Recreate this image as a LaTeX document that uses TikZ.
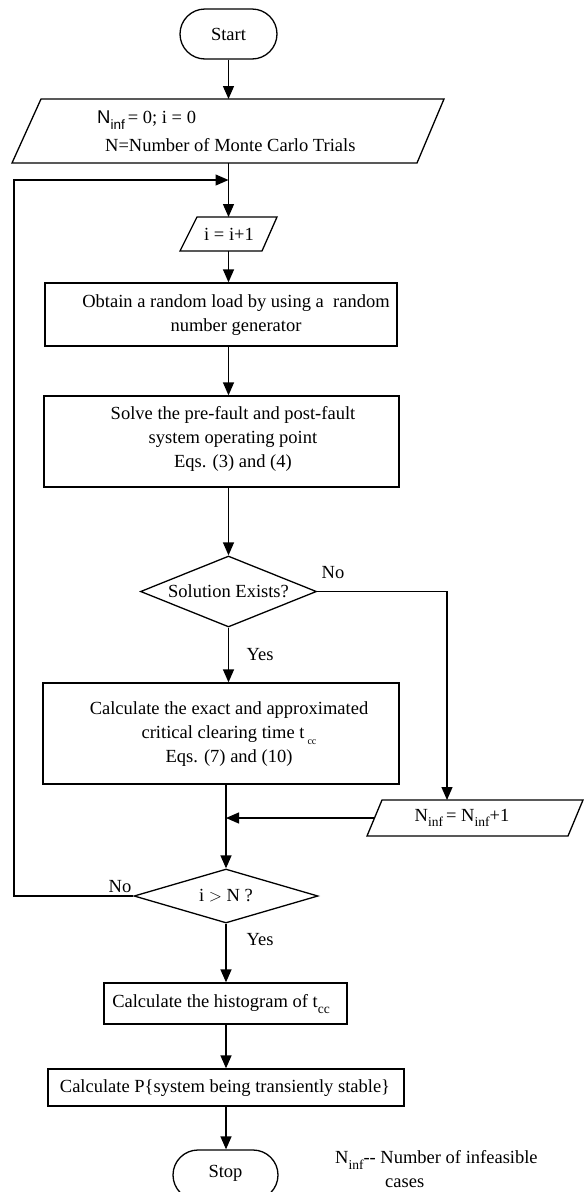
\documentclass[tikz,border=0pt]{standalone}
\usepackage{fontspec}
\setmainfont{Liberation Serif}
\setsansfont{Liberation Sans}
\usetikzlibrary{arrows.meta,shapes.geometric,calc}
\newcommand{\mysub}[1]{\raisebox{-0.3em}{\fontsize{13.5}{13.5}\selectfont #1}}
\newcommand{\mytinysub}[1]{\raisebox{-0.35em}{\fontsize{10}{10}\selectfont #1}}
\begin{document}
\begin{tikzpicture}[x=1pt,y=-1pt,
  every node/.style={font=\fontsize{18.5}{24}\selectfont,inner sep=0pt},
  line/.style={line width=1.3pt},
  arr/.style={line width=1.3pt,-{Triangle[length=13pt,width=11pt]}},
  box/.style={draw,line width=1.3pt,rectangle,inner sep=0pt},
  term/.style={box,rounded corners=25pt},
  dia/.style={draw,line width=1.3pt,diamond,inner sep=0pt},
  ghost/.style={inner sep=0pt,outer sep=0pt}]
\useasboundingbox (0,0) rectangle (584,1192);

% Start
\node[term,minimum width=97pt,minimum height=50pt] (start) at (228.5,34) {Start};

% input parallelogram 1
\node[ghost,minimum width=400pt,minimum height=64pt] (p1) at (228.5,131) {};
\draw[line] (41,99) -- (444,99) -- (417,163) -- (12,163) -- cycle;
\node[anchor=west] (p1a) at (97,120) {{\sffamily N\mysub{inf}}\,= 0; i = 0};
\node[anchor=west] (p1b) at (105,145) {N=Number of Monte Carlo Trials};

% i = i+1
\node[ghost,minimum width=82pt,minimum height=34pt] (p2) at (228.5,234) {};
\draw[line] (197,217) -- (277,217) -- (262,251) -- (180,251) -- cycle;
\node (p2t) at (229,234) {i = i+1};

% rect 1
\node[box,minimum width=352pt,minimum height=63pt] (r1) at (221,314.5) {};
\node[align=center] (r1t) at (236,315) {Obtain a random load by using a~~random\\number generator};

% rect 2
\node[box,minimum width=355pt,minimum height=91pt] (r2) at (221.5,441.5) {};
\node[align=center] (r2t) at (233,439) {Solve the pre-fault and post-fault\\system operating point\\Eqs. (3) and (4)};

% diamond 1
\node[dia,aspect=2.48,minimum width=176pt,minimum height=71pt] (d1) at (228.5,591.5) {Solution Exists?};
\node (no1) at (333,573) {No};
\node (yes1) at (260,655) {Yes};

% rect 3
\node[box,minimum width=356pt,minimum height=101pt] (r3) at (221,733.5) {};
\node[align=center] (r3t) at (229,734) {Calculate the exact and approximated\\critical clearing time t\,\mytinysub{cc}\\Eqs. (7) and (10)};

% N_inf = N_inf + 1
\node[ghost,minimum width=201pt,minimum height=36pt] (p3) at (475,818) {};
\draw[line] (382,800) -- (583,800) -- (568,836) -- (367,836) -- cycle;
\node (p3t) at (462,818) {N\mysub{inf}\,= N\mysub{inf}+1};
\coordinate (p3in) at (447,800);

% diamond 2
\node[dia,aspect=3.4,minimum width=184pt,minimum height=54pt] (d2) at (226,896) {i $>$ N ?};
\node (no2) at (120,887) {No};
\node (yes2) at (260,940) {Yes};

% rect 4, 5
\node[box,minimum width=243pt,minimum height=41pt] (r4) at (225.5,1003.5) {};
\node (r4t) at (221,1004) {Calculate the histogram of t\mysub{cc}};
\node[box,minimum width=356pt,minimum height=37pt] (r5) at (226,1087.5) {};
\node (r5t) at (225,1088) {Calculate P\{system being transiently stable\}};

% Stop
\node[term,minimum width=105pt,minimum height=50pt] (stop) at (225.5,1175) {};
\node (stopt) at (225.5,1173) {Stop};

% note
\node[anchor=west] (note1) at (335,1160) {N\mysub{inf}-{}- Number of infeasible};
\node[anchor=west] (note2) at (385,1183) {cases};

% connectors
\coordinate (loopin) at (228.5,180);
\coordinate (lc) at (14,896);
\coordinate (m) at (226,818);
\draw[arr] (start.south) -- (p1.north);
\draw[arr] (p1.south) -- (p2.north);
\draw[arr] (p2.south) -- (r1.north -| p2.south);
\draw[arr] (r1.south -| p2.south) -- (r2.north -| p2.south);
\draw[arr] (r2.south -| d1.north) -- (d1.north);
\draw[arr] (d1.south) -- (r3.north -| d1.south);
\draw[arr] (d1.east) -| (p3in);
\draw[line] (r3.south -| m) -- (m);
\draw[arr] (p3.west) -- (m);
\draw[arr] (m) -- (d2.north);
\draw[arr] (d2.west) -- (lc) |- (loopin);
\draw[arr] (d2.south) -- (r4.north -| d2.south);
\draw[arr] (r4.south -| d2.south) -- (r5.north -| d2.south);
\draw[arr] (r5.south -| d2.south) -- (stop.north -| d2.south);
\end{tikzpicture}
\end{document}
